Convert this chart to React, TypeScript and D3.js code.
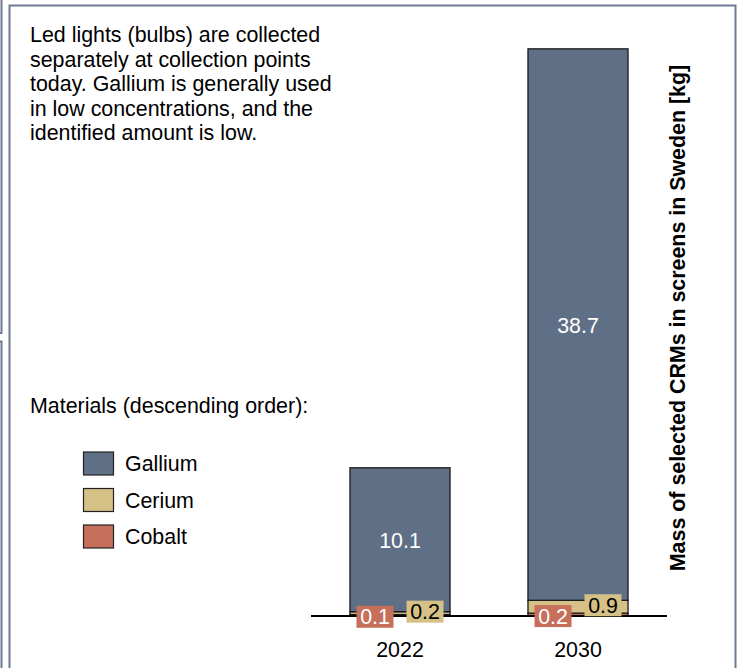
import React from "react";
import * as d3 from "d3";

// Mass of selected critical raw materials in screens in Sweden [kg]
const years = ["2022", "2030"];
const materials = ["Cobalt", "Cerium", "Gallium"]; // stacking order, bottom to top
const legendOrder = ["Gallium", "Cerium", "Cobalt"];
const gallium = [10.1, 38.7];
const cerium = [0.2, 0.9];
const cobalt = [0.1, 0.2];

const noteLines = [
  "Led lights (bulbs) are collected",
  "separately at collection points",
  "today. Gallium is generally used",
  "in low concentrations, and the",
  "identified amount is low.",
];
const legendTitle = "Materials (descending order):";
const axisTitle = "Mass of selected CRMs in screens in Sweden [kg]";

const W = 739;
const H = 668;
const FONT = "'Liberation Sans', Arial, Helvetica, sans-serif";
const FS = 21.4;

const colors: Record<string, string> = {
  Gallium: "#5f7086",
  Cerium: "#d5c086",
  Cobalt: "#c6705c",
};
const frame = "#6d7b93";

export default function App() {
  const rows = years.map((y, i) => ({
    year: y,
    Gallium: gallium[i],
    Cerium: cerium[i],
    Cobalt: cobalt[i],
  }));
  const series = d3.stack<any>().keys(materials)(rows);

  const x = d3
    .scaleBand<string>()
    .domain(years)
    .range([311, 667])
    .paddingInner(0.438)
    .paddingOuter(0.219);
  const y = d3.scaleLinear().domain([0, 40]).range([616, 46]);
  const bw = x.bandwidth();

  // small value tags for the thin bottom segments
  const tag = (cx: number, cy: number, text: string, fill: string, color: string, key: string) => {
    const w = text.length * 12 + 1;
    const h = 22;
    return (
      <g key={key}>
        <rect x={cx - w / 2} y={cy - h / 2} width={w} height={h} fill={fill} />
        <text
          x={cx}
          y={cy + 7.5}
          textAnchor="middle"
          fontSize={FS}
          fill={color}
          fontFamily={FONT}
        >
          {text}
        </text>
      </g>
    );
  };

  return (
    <svg
      width={W}
      height={H}
      style={{ position: "absolute", left: 0, top: 0, background: "#fff" }}
    >
      {/* neighbouring panel edges */}
      <path d="M1.5,0 V333 H-2" fill="none" stroke={frame} strokeWidth={2} />
      <path d="M-2,341.5 H1.5 V670" fill="none" stroke={frame} strokeWidth={2} />
      {/* main panel frame */}
      <path d="M9.5,670 V5.5 H735.5 V670" fill="none" stroke={frame} strokeWidth={2} />

      {/* note */}
      {noteLines.map((l, i) => (
        <text key={l} x={30} y={42 + i * 24.5} fontSize={FS} fontFamily={FONT} fill="#000">
          {l}
        </text>
      ))}

      {/* legend */}
      <text x={30} y={413} fontSize={FS} fontFamily={FONT} fill="#000">
        {legendTitle}
      </text>
      {legendOrder.map((m, i) => {
        const cy = 463.5 + i * 36.5;
        return (
          <g key={m}>
            <rect x={83.5} y={cy - 11.5} width={30} height={23} fill={colors[m]} stroke="#222" strokeWidth={1.2} />
            <text x={125} y={cy + 7.5} fontSize={FS} fontFamily={FONT} fill="#000">
              {m}
            </text>
          </g>
        );
      })}

      {/* stacked bars */}
      {series.map((s) => (
        <g key={s.key}>
          {s.map((d, i) => (
            <rect
              key={years[i]}
              x={x(years[i])!}
              y={y(d[1])}
              width={bw}
              height={y(d[0]) - y(d[1])}
              fill={colors[s.key]}
              stroke="#1a1a1a"
              strokeWidth={1.3}
            />
          ))}
        </g>
      ))}

      {/* baseline */}
      <line x1={311} x2={667} y1={616} y2={616} stroke="#000" strokeWidth={2} />

      {/* value labels */}
      {series.map((s) =>
        s.map((d, i) => {
          const cx = x(years[i])! + bw / 2;
          const mid = (y(d[0]) + y(d[1])) / 2;
          const v = d3.format(".1f")(d[1] - d[0]);
          if (s.key === "Gallium") {
            return (
              <text
                key={s.key + i}
                x={cx}
                y={mid + 8}
                textAnchor="middle"
                fontSize={FS}
                fontFamily={FONT}
                fill="#fff"
              >
                {v}
              </text>
            );
          }
          if (s.key === "Cobalt") return tag(cx - 25, mid + 1.5, v, colors.Cobalt, "#fff", s.key + i);
          return tag(cx + 25, mid - 1.5, v, colors.Cerium, "#000", s.key + i);
        })
      )}

      {/* category labels */}
      {years.map((yr) => (
        <text
          key={yr}
          x={x(yr)! + bw / 2}
          y={657}
          textAnchor="middle"
          fontSize={FS}
          fontFamily={FONT}
          fill="#000"
        >
          {yr}
        </text>
      ))}

      {/* axis title */}
      <text
        transform={`translate(685,318) rotate(-90)`}
        textAnchor="middle"
        fontSize={FS}
        fontWeight="bold"
        fontFamily={FONT}
        fill="#000"
      >
        {axisTitle}
      </text>
    </svg>
  );
}
